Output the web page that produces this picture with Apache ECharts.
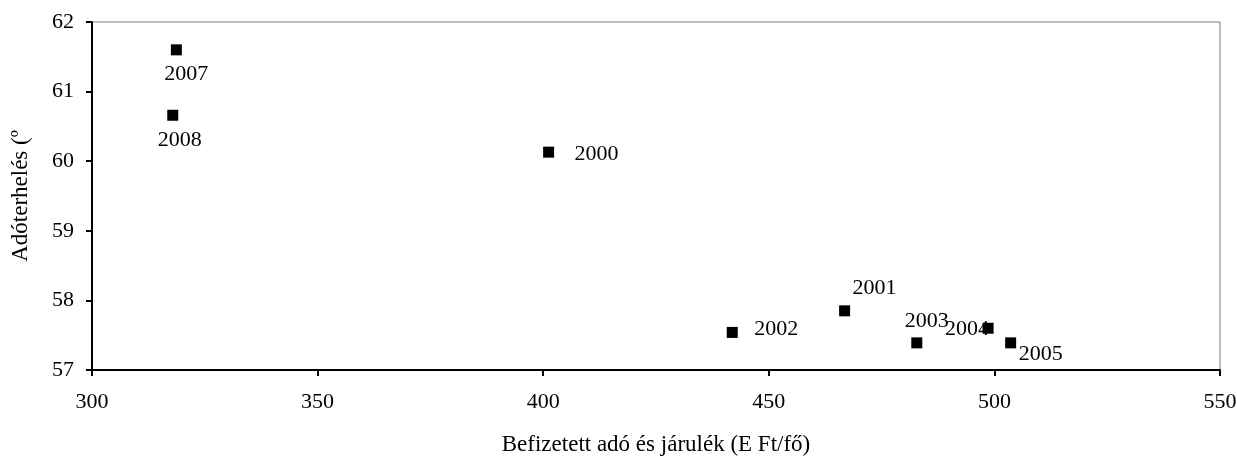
<!DOCTYPE html>
<html>
<head>
<meta charset="utf-8">
<script src="https://cdn.jsdelivr.net/npm/echarts@6/dist/echarts.min.js"></script>
<style>
  html, body { margin: 0; padding: 0; background: #fff; }
  #chart { width: 1237px; height: 456px; }
</style>
</head>
<body>
<div id="chart"></div>
<script>
// Year of each observation
const years = ['2000', '2001', '2002', '2003', '2004', '2005', '2007', '2008'];
// Paid tax and contributions (thousand Ft per person)
const paid = [401.2, 466.8, 441.9, 482.8, 498.6, 503.6, 318.7, 317.9];
// Tax burden (%)
const burden = [60.13, 57.85, 57.54, 57.39, 57.60, 57.39, 61.60, 60.66];

// Where each year label sits relative to its marker (px)
const labelOffsets = [
  [48, 2], [30, -23], [44, -3], [10, -22], [-21, 1], [30, 11], [10, 24], [7, 25]
];

const font = '"Liberation Serif", "Times New Roman", serif';

const points = paid.map((x, i) => ({
  value: [x, burden[i]],
  name: years[i],
  label: { offset: labelOffsets[i] }
}));

const chart = echarts.init(document.getElementById('chart'), null, { renderer: 'canvas' });
chart.setOption({
  animation: false,
  backgroundColor: '#fff',
  grid: {
    left: 92, right: 17, top: 22, bottom: 86,
    outerBoundsMode: 'none',
    containLabel: false,
    show: true, borderColor: '#808080', borderWidth: 1, backgroundColor: '#fff'
  },
  xAxis: {
    type: 'value', min: 300, max: 550, interval: 50,
    name: 'Befizetett adó és járulék (E Ft/fő)',
    nameLocation: 'middle', nameGap: 63,
    nameTextStyle: { fontFamily: font, fontSize: 23, color: '#000' },
    axisLine: { show: true, onZero: false, lineStyle: { color: '#000', width: 2 } },
    axisTick: { show: true, inside: false, length: 6, lineStyle: { color: '#000', width: 2 } },
    axisLabel: { fontFamily: font, fontSize: 22, color: '#000', margin: 21 },
    splitLine: { show: false }
  },
  yAxis: {
    type: 'value', min: 57, max: 62, interval: 1,
    name: 'Adóterhelés (º',
    nameLocation: 'middle', nameGap: 60,
    nameTextStyle: { fontFamily: font, fontSize: 23, color: '#000' },
    axisLine: { show: true, onZero: false, lineStyle: { color: '#000', width: 2 } },
    axisTick: { show: true, inside: false, length: 6, lineStyle: { color: '#000', width: 2 } },
    axisLabel: { fontFamily: font, fontSize: 22, color: '#000', margin: 18 },
    splitLine: { show: false }
  },
  series: [{
    type: 'scatter',
    symbol: 'rect',
    symbolSize: 11,
    itemStyle: { color: '#000', opacity: 1 },
    data: points,
    label: {
      show: true,
      position: 'inside',
      align: 'center',
      verticalAlign: 'middle',
      formatter: p => p.name,
      fontFamily: font,
      fontSize: 22,
      color: '#000'
    }
  }]
});
</script>
</body>
</html>
